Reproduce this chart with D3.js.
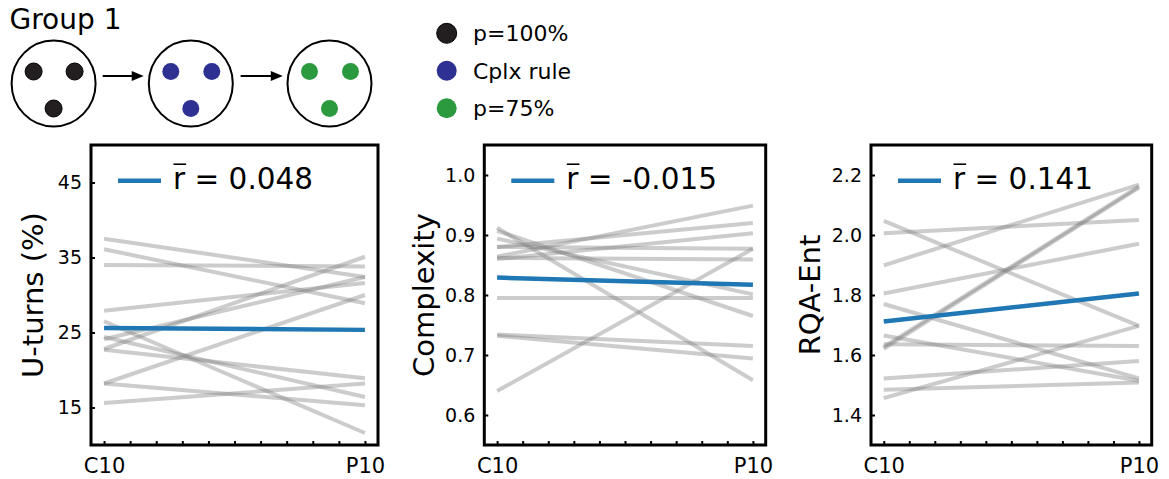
<!DOCTYPE html>
<html>
<head>
<meta charset="utf-8">
<script src="https://cdn.jsdelivr.net/npm/d3@7"></script>
<style>
  body { margin: 0; background: #fff; }
  svg { display: block; }
  text { font-family: "DejaVu Sans", sans-serif; fill: #000; }
</style>
</head>
<body>
<svg id="chart" width="1169" height="479"></svg>
<script>
// conditions shown in the top-left sketch
const conditions = ["p=100%", "Cplx rule", "p=75%"];
const conditionColors = ["#231f20", "#2e3192", "#2b9a3f"];

const categories = ["C10", "P10"];

// one value per subject
const uturnsC10 = [37.5, 36.1, 34.0, 27.9, 22.8, 24.1, 18.2, 26.5, 24.4, 22.7, 18.2, 15.6];
const uturnsP10 = [32.4, 28.9, 33.8, 31.6, 35.1, 32.4, 30.0, 11.6, 16.4, 18.9, 15.3, 18.2];
const uturnsMean = [25.6, 25.35];
const uturnsTicks = [15, 25, 35, 45];

const complexityC10 = [0.640, 0.912, 0.907, 0.894, 0.880, 0.880, 0.864, 0.862, 0.860, 0.795, 0.734, 0.732];
const complexityP10 = [0.877, 0.658, 0.765, 0.801, 0.920, 0.877, 0.949, 0.859, 0.903, 0.795, 0.715, 0.694];
const complexityMean = [0.829, 0.817];
const complexityTicks = [0.6, 0.7, 0.8, 0.9, 1.0];

const rqaC10 = [2.047, 2.006, 1.899, 1.805, 1.770, 1.665, 1.636, 1.627, 1.621, 1.522, 1.484, 1.456];
const rqaP10 = [1.697, 2.050, 2.168, 1.971, 1.522, 1.514, 1.630, 2.162, 2.158, 1.580, 1.508, 1.697];
const rqaMean = [1.712, 1.805];
const rqaTicks = [1.4, 1.6, 1.8, 2.0, 2.2];

const rBar = ["0.048", "-0.015", "0.141"];
const yLabels = ["U-turns (%)", "Complexity", "RQA-Ent"];

const panels = [
  { label: yLabels[0], c10: uturnsC10, p10: uturnsP10, mean: uturnsMean, ticks: uturnsTicks,
    domain: [10, 50], fmt: d3.format("d"), r: rBar[0], left: 91, right: 378, labelX: 43 },
  { label: yLabels[1], c10: complexityC10, p10: complexityP10, mean: complexityMean, ticks: complexityTicks,
    domain: [0.55, 1.05], fmt: d3.format(".1f"), r: rBar[1], left: 484.3, right: 765.7, labelX: 434 },
  { label: yLabels[2], c10: rqaC10, p10: rqaP10, mean: rqaMean, ticks: rqaTicks,
    domain: [1.3, 2.3], fmt: d3.format(".1f"), r: rBar[2], left: 871, right: 1151.7, labelX: 819.5 }
];

const svg = d3.select("#chart");
const plotTop = 145, plotBottom = 445;

panels.forEach(p => {
  const x = d3.scaleLinear().domain([-0.05, 1.05]).range([p.left, p.right]);
  const y = d3.scaleLinear().domain(p.domain).range([plotBottom, plotTop]);
  const g = svg.append("g");
  const line = d3.line().x((d, i) => x(i)).y(d => y(d));

  // subject lines
  p.c10.forEach((v, i) => {
    g.append("path")
      .attr("d", line([v, p.p10[i]]))
      .attr("fill", "none")
      .attr("stroke", "#808080")
      .attr("stroke-opacity", 0.4)
      .attr("stroke-width", 4);
  });

  // group mean
  g.append("path")
    .attr("d", line(p.mean))
    .attr("fill", "none")
    .attr("stroke", "#1f77b4")
    .attr("stroke-width", 4.5);

  // y ticks (inward)
  const yAxis = d3.axisLeft(y).tickValues(p.ticks).tickFormat(p.fmt)
    .tickSizeInner(-4).tickSizeOuter(0).tickPadding(9);
  const ya = g.append("g").attr("transform", `translate(${p.left},0)`).call(yAxis);
  ya.select(".domain").remove();
  ya.selectAll("line").attr("stroke", "#000").attr("stroke-width", 2);
  ya.selectAll("text").attr("font-size", 19).attr("font-family", "DejaVu Sans");

  // x minor ticks (inward) and category labels
  const xAxis = d3.axisBottom(x).tickValues(d3.range(0, 1.001, 0.1))
    .tickFormat(d => d === 0 ? categories[0] : (Math.abs(d - 1) < 1e-6 ? categories[1] : ""))
    .tickSizeInner(-4).tickSizeOuter(0).tickPadding(13);
  const xa = g.append("g").attr("transform", `translate(0,${plotBottom})`).call(xAxis);
  xa.select(".domain").remove();
  xa.selectAll("line").attr("stroke", "#000").attr("stroke-width", 2);
  xa.selectAll("text").attr("font-size", 21).attr("font-family", "DejaVu Sans");

  // frame
  g.append("rect")
    .attr("x", p.left).attr("y", plotTop)
    .attr("width", p.right - p.left).attr("height", plotBottom - plotTop)
    .attr("fill", "none").attr("stroke", "#000").attr("stroke-width", 3);

  // y label
  g.append("text")
    .attr("transform", `translate(${p.labelX},${(plotTop + plotBottom) / 2}) rotate(-90)`)
    .attr("text-anchor", "middle")
    .attr("font-size", 29)
    .text(p.label);

  // legend: blue sample + r-bar text
  const ly = 180.7;
  g.append("line")
    .attr("x1", p.left + 27).attr("x2", p.left + 70)
    .attr("y1", ly).attr("y2", ly)
    .attr("stroke", "#1f77b4").attr("stroke-width", 4.5);
  const tx = p.left + 82, tb = 189, fs = 29.5;
  const rText = g.append("text").attr("x", tx).attr("y", tb).attr("font-size", fs).text("r");
  const rw = rText.node().getComputedTextLength();
  g.append("line")
    .attr("x1", tx + 0.5).attr("x2", tx + rw + 1)
    .attr("y1", tb - fs * 0.84).attr("y2", tb - fs * 0.84)
    .attr("stroke", "#000").attr("stroke-width", 1.6);
  g.append("text").attr("x", tx + rw).attr("y", tb).attr("font-size", fs)
    .attr("xml:space", "preserve")
    .text(" = " + p.r);
});

// top-left sketch: three arenas with arrows
const sketch = svg.append("g");
sketch.append("text").attr("x", 9.5).attr("y", 28.5).attr("font-size", 28).text("Group 1");

const arenaX = [53.6, 190.8, 329.5];
const arenaY = 83.5;
const dotOffsets = [[-20, -12], [21, -12], [0, 25]];
arenaX.forEach((cx, i) => {
  sketch.append("ellipse")
    .attr("cx", cx).attr("cy", arenaY).attr("rx", 42).attr("ry", 43)
    .attr("fill", "#fff").attr("stroke", "#000").attr("stroke-width", 2);
  dotOffsets.forEach(o => {
    sketch.append("circle")
      .attr("cx", cx + o[0]).attr("cy", arenaY + o[1]).attr("r", 8.5)
      .attr("fill", conditionColors[i]).attr("stroke", i === 0 ? "#000" : "none");
  });
});

[[102.7, 143.7], [240.6, 282.8]].forEach(a => {
  sketch.append("line")
    .attr("x1", a[0]).attr("x2", a[1] - 8).attr("y1", 76).attr("y2", 76)
    .attr("stroke", "#000").attr("stroke-width", 2);
  sketch.append("path")
    .attr("d", `M${a[1]},76 L${a[1] - 12},71 L${a[1] - 12},81 Z`)
    .attr("fill", "#000");
});

// condition legend
const legY = [33.3, 70.7, 108.3];
conditions.forEach((c, i) => {
  sketch.append("circle")
    .attr("cx", 446.7).attr("cy", legY[i]).attr("r", 10)
    .attr("fill", conditionColors[i]).attr("stroke", i === 0 ? "#000" : "none");
  sketch.append("text")
    .attr("x", 473).attr("y", legY[i] + 7.8).attr("font-size", 22).text(c);
});
</script>
</body>
</html>
